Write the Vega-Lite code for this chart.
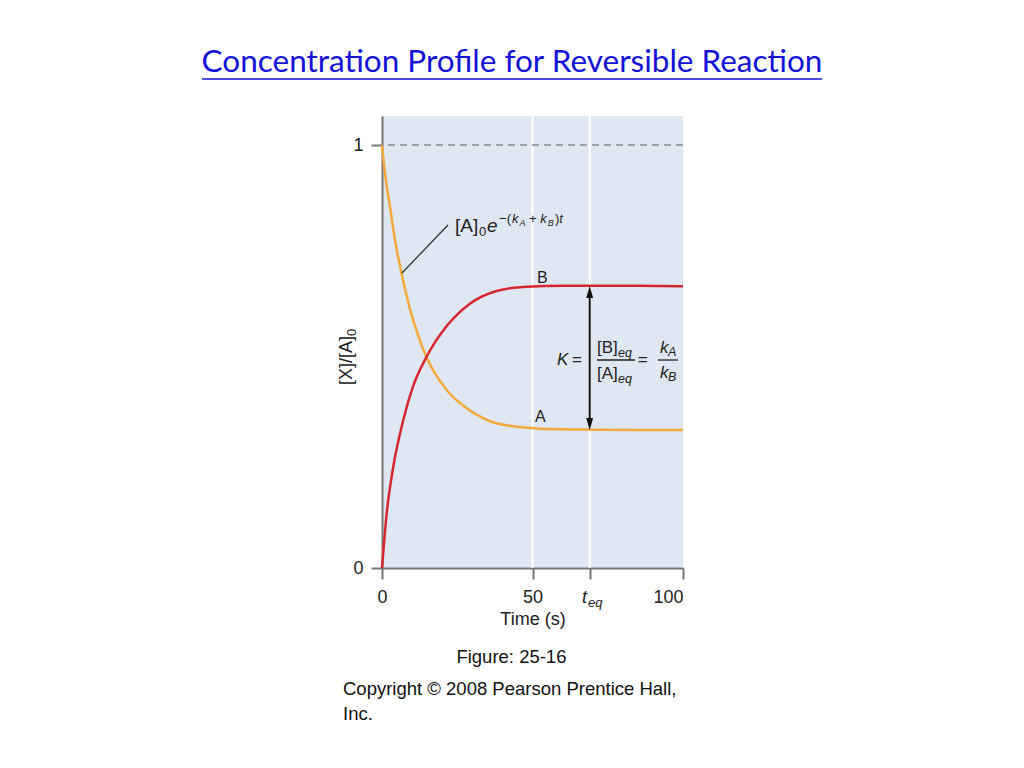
{
  "$schema": "https://vega.github.io/schema/vega-lite/v6.json",
  "width": 301,
  "height": 452,
  "autosize": {"type": "none"},
  "padding": {"left": 382, "top": 116, "right": 341, "bottom": 200},
  "background": "white",
  "config": {
    "view": {"fill": "#dfe7f2", "stroke": null},
    "font": "Liberation Sans",
    "text": {"font": "Liberation Sans", "color": "#222222", "align": "left", "baseline": "alphabetic"}
  },
  "layer": [
    {
      "data": {"values": [{"t": 50}, {"t": 69}]},
      "mark": {"type": "rule", "color": "white", "strokeWidth": 2.2},
      "encoding": {
        "x": {
          "field": "t", "type": "quantitative",
          "scale": {"domain": [0, 100], "nice": false, "zero": false},
          "axis": {
            "values": [0, 50, 69, 100],
            "labelExpr": "datum.value == 69 ? '' : datum.label",
            "labelAlign": {"condition": {"test": "datum.value == 100", "value": "right"}, "value": "center"},
            "labelFlush": false,
            "grid": false,
            "domainColor": "#767676", "domainWidth": 2,
            "tickColor": "#767676", "tickWidth": 2, "tickSize": 11,
            "labelFont": "Liberation Sans", "labelFontSize": 18, "labelColor": "#222222", "labelPadding": 9,
            "title": "Time (s)", "titleFont": "Liberation Sans", "titleFontSize": 18, "titleFontWeight": "normal",
            "titleColor": "#222222", "titlePadding": 4
          }
        }
      }
    },
    {
      "data": {"values": [{"v": 1}]},
      "mark": {"type": "rule", "color": "#8a8a8a", "strokeWidth": 1.3, "strokeDash": [7, 5]},
      "encoding": {
        "y": {
          "field": "v", "type": "quantitative",
          "scale": {"domain": [0, 1.0686], "nice": false, "zero": false},
          "axis": {
            "values": [0, 1],
            "format": "d",
            "grid": false,
            "domainColor": "#767676", "domainWidth": 2,
            "tickColor": "#767676", "tickWidth": 2, "tickSize": 11,
            "labelFont": "Liberation Sans", "labelFontSize": 18, "labelColor": "#222222", "labelPadding": 8,
            "title": null
          }
        }
      }
    },
    {
      "data": {"values": [
        {"t": 0, "v": 1.0}, {"t": 1.0, "v": 0.933}, {"t": 2.66, "v": 0.854}, {"t": 4.32, "v": 0.775},
        {"t": 6.54, "v": 0.695}, {"t": 9.3, "v": 0.612}, {"t": 12.6, "v": 0.538}, {"t": 14.85, "v": 0.497},
        {"t": 21.5, "v": 0.421}, {"t": 28.1, "v": 0.378}, {"t": 35.9, "v": 0.347}, {"t": 43.6, "v": 0.335},
        {"t": 51.4, "v": 0.330}, {"t": 60, "v": 0.328}, {"t": 70, "v": 0.327}, {"t": 85, "v": 0.326}, {"t": 100, "v": 0.326}
      ]},
      "mark": {"type": "line", "color": "#f3a93c", "strokeWidth": 2.5, "interpolate": "monotone"},
      "encoding": {"x": {"field": "t", "type": "quantitative"}, "y": {"field": "v", "type": "quantitative"}}
    },
    {
      "data": {"values": [
        {"t": 0, "v": 0.0}, {"t": 1.56, "v": 0.129}, {"t": 3.76, "v": 0.24}, {"t": 7.08, "v": 0.35},
        {"t": 10.4, "v": 0.431}, {"t": 14.85, "v": 0.50}, {"t": 21.5, "v": 0.572}, {"t": 29.2, "v": 0.625},
        {"t": 38.1, "v": 0.655}, {"t": 48.1, "v": 0.665}, {"t": 60, "v": 0.667}, {"t": 70, "v": 0.667},
        {"t": 85, "v": 0.667}, {"t": 100, "v": 0.666}
      ]},
      "mark": {"type": "line", "color": "#d8262e", "strokeWidth": 2.5, "interpolate": "monotone"},
      "encoding": {"x": {"field": "t", "type": "quantitative"}, "y": {"field": "v", "type": "quantitative"}}
    },
    {
      "data": {"values": [{"t": 69, "v": 0.345, "v2": 0.648}]},
      "mark": {"type": "rule", "color": "#111111", "strokeWidth": 2},
      "encoding": {"x": {"field": "t", "type": "quantitative"}, "y": {"field": "v", "type": "quantitative"}, "y2": {"field": "v2"}}
    },
    {
      "data": {"values": [{"t": 69, "v": 0.6525}]},
      "mark": {"type": "point", "shape": "M0,-1L0.58,1L-0.58,1Z", "size": 144, "filled": true, "color": "#111111", "opacity": 1},
      "encoding": {"x": {"field": "t", "type": "quantitative"}, "y": {"field": "v", "type": "quantitative"}}
    },
    {
      "data": {"values": [{"t": 69, "v": 0.3404}]},
      "mark": {"type": "point", "shape": "M0,1L0.58,-1L-0.58,-1Z", "size": 144, "filled": true, "color": "#111111", "opacity": 1},
      "encoding": {"x": {"field": "t", "type": "quantitative"}, "y": {"field": "v", "type": "quantitative"}}
    },
    {
      "data": {"values": [{"t": 6.64, "v": 0.6974, "t2": 21.93, "v2": 0.8109}]},
      "mark": {"type": "rule", "color": "#333333", "strokeWidth": 1.3},
      "encoding": {
        "x": {"field": "t", "type": "quantitative"}, "y": {"field": "v", "type": "quantitative"},
        "x2": {"field": "t2"}, "y2": {"field": "v2"}
      }
    },
    {
      "data": {"values": [{"t": 71.43, "t2": 84.05, "v": 0.4917}, {"t": 91.69, "t2": 98.34, "v": 0.4917}]},
      "mark": {"type": "rule", "color": "#222222", "strokeWidth": 1.3},
      "encoding": {"x": {"field": "t", "type": "quantitative"}, "x2": {"field": "t2"}, "y": {"field": "v", "type": "quantitative"}}
    },
    {
      "data": {"values": [{"t": 24.25, "v": 0.7943, "txt": "[A]"}]},
      "mark": {"type": "text", "fontSize": 19},
      "encoding": {"x": {"field": "t", "type": "quantitative"}, "y": {"field": "v", "type": "quantitative"}, "text": {"field": "txt"}}
    },
    {
      "data": {"values": [{"t": 34.88, "v": 0.7943, "txt": "e"}]},
      "mark": {"type": "text", "fontSize": 19, "fontStyle": "italic"},
      "encoding": {"x": {"field": "t", "type": "quantitative"}, "y": {"field": "v", "type": "quantitative"}, "text": {"field": "txt"}}
    },
    {
      "data": {"values": [
        {"t": 32.23, "v": 0.7849, "txt": "0"},
        {"t": 38.9, "v": 0.8156, "txt": "−("},
        {"t": 48.84, "v": 0.8156, "txt": "+"},
        {"t": 57.5, "v": 0.8156, "txt": ")"}
      ]},
      "mark": {"type": "text", "fontSize": 13},
      "encoding": {"x": {"field": "t", "type": "quantitative"}, "y": {"field": "v", "type": "quantitative"}, "text": {"field": "txt"}}
    },
    {
      "data": {"values": [
        {"t": 43.2, "v": 0.8156, "txt": "k"},
        {"t": 52.6, "v": 0.8156, "txt": "k"},
        {"t": 58.9, "v": 0.8156, "txt": "t"},
        {"t": 68.44, "v": -0.0922, "txt": "eq"}
      ]},
      "mark": {"type": "text", "fontSize": 13, "fontStyle": "italic"},
      "encoding": {"x": {"field": "t", "type": "quantitative"}, "y": {"field": "v", "type": "quantitative"}, "text": {"field": "txt"}}
    },
    {
      "data": {"values": [
        {"t": 45.7, "v": 0.8097, "txt": "A"},
        {"t": 55.1, "v": 0.8097, "txt": "B"}
      ]},
      "mark": {"type": "text", "fontSize": 9, "fontStyle": "italic"},
      "encoding": {"x": {"field": "t", "type": "quantitative"}, "y": {"field": "v", "type": "quantitative"}, "text": {"field": "txt"}}
    },
    {
      "data": {"values": [
        {"t": 51.5, "v": 0.6738, "txt": "B"},
        {"t": 50.83, "v": 0.3452, "txt": "A"}
      ]},
      "mark": {"type": "text", "fontSize": 16},
      "encoding": {"x": {"field": "t", "type": "quantitative"}, "y": {"field": "v", "type": "quantitative"}, "text": {"field": "txt"}}
    },
    {
      "data": {"values": [
        {"t": 63.12, "v": 0.4799, "txt": "="},
        {"t": 71.43, "v": 0.5083, "txt": "[B]"},
        {"t": 71.43, "v": 0.4468, "txt": "[A]"},
        {"t": 85.0, "v": 0.4799, "txt": "="}
      ]},
      "mark": {"type": "text", "fontSize": 17},
      "encoding": {"x": {"field": "t", "type": "quantitative"}, "y": {"field": "v", "type": "quantitative"}, "text": {"field": "txt"}}
    },
    {
      "data": {"values": [
        {"t": 58.14, "v": 0.4799, "txt": "K"},
        {"t": 92.36, "v": 0.5083, "txt": "k"},
        {"t": 92.36, "v": 0.4492, "txt": "k"}
      ]},
      "mark": {"type": "text", "fontSize": 17, "fontStyle": "italic"},
      "encoding": {"x": {"field": "t", "type": "quantitative"}, "y": {"field": "v", "type": "quantitative"}, "text": {"field": "txt"}}
    },
    {
      "data": {"values": [
        {"t": 78.41, "v": 0.4988, "txt": "eq"},
        {"t": 78.41, "v": 0.4374, "txt": "eq"},
        {"t": 95.02, "v": 0.5012, "txt": "A"},
        {"t": 95.02, "v": 0.4421, "txt": "B"}
      ]},
      "mark": {"type": "text", "fontSize": 12.5, "fontStyle": "italic"},
      "encoding": {"x": {"field": "t", "type": "quantitative"}, "y": {"field": "v", "type": "quantitative"}, "text": {"field": "txt"}}
    },
    {
      "data": {"values": [{"t": 66.45, "v": -0.0827, "txt": "t"}]},
      "mark": {"type": "text", "fontSize": 18, "fontStyle": "italic"},
      "encoding": {"x": {"field": "t", "type": "quantitative"}, "y": {"field": "v", "type": "quantitative"}, "text": {"field": "txt"}}
    },
    {
      "data": {"values": [{"t": -9.97, "v": 0.4326, "txt": "[X]/[A]"}]},
      "mark": {"type": "text", "fontSize": 18, "angle": 270},
      "encoding": {"x": {"field": "t", "type": "quantitative"}, "y": {"field": "v", "type": "quantitative"}, "text": {"field": "txt"}}
    },
    {
      "data": {"values": [{"t": -8.64, "v": 0.5485, "txt": "0"}]},
      "mark": {"type": "text", "fontSize": 13, "angle": 270},
      "encoding": {"x": {"field": "t", "type": "quantitative"}, "y": {"field": "v", "type": "quantitative"}, "text": {"field": "txt"}}
    },
    {
      "data": {"values": [{"t": 43.0, "v": -0.2246, "txt": "Figure: 25-16"}]},
      "mark": {"type": "text", "fontSize": 18.5, "align": "center", "color": "#111111"},
      "encoding": {"x": {"field": "t", "type": "quantitative"}, "y": {"field": "v", "type": "quantitative"}, "text": {"field": "txt"}}
    },
    {
      "data": {"values": [
        {"t": -12.96, "v": -0.3002, "txt": "Copyright © 2008 Pearson Prentice Hall,"},
        {"t": -12.96, "v": -0.3593, "txt": "Inc."}
      ]},
      "mark": {"type": "text", "fontSize": 18.5, "color": "#111111"},
      "encoding": {"x": {"field": "t", "type": "quantitative"}, "y": {"field": "v", "type": "quantitative"}, "text": {"field": "txt"}}
    },
    {
      "data": {"values": [{"t": 43.19, "v": 1.1726, "txt": "Concentration Profile for Reversible Reaction"}]},
      "mark": {"type": "text", "font": "Lato", "fontSize": 31.5, "align": "center", "color": "#1212d8"},
      "encoding": {"x": {"field": "t", "type": "quantitative"}, "y": {"field": "v", "type": "quantitative"}, "text": {"field": "txt"}}
    },
    {
      "data": {"values": [{"t": -59.8, "t2": 146.2, "v": 1.156}]},
      "mark": {"type": "rule", "color": "#1212d8", "strokeWidth": 1.5},
      "encoding": {"x": {"field": "t", "type": "quantitative"}, "x2": {"field": "t2"}, "y": {"field": "v", "type": "quantitative"}}
    }
  ]
}
